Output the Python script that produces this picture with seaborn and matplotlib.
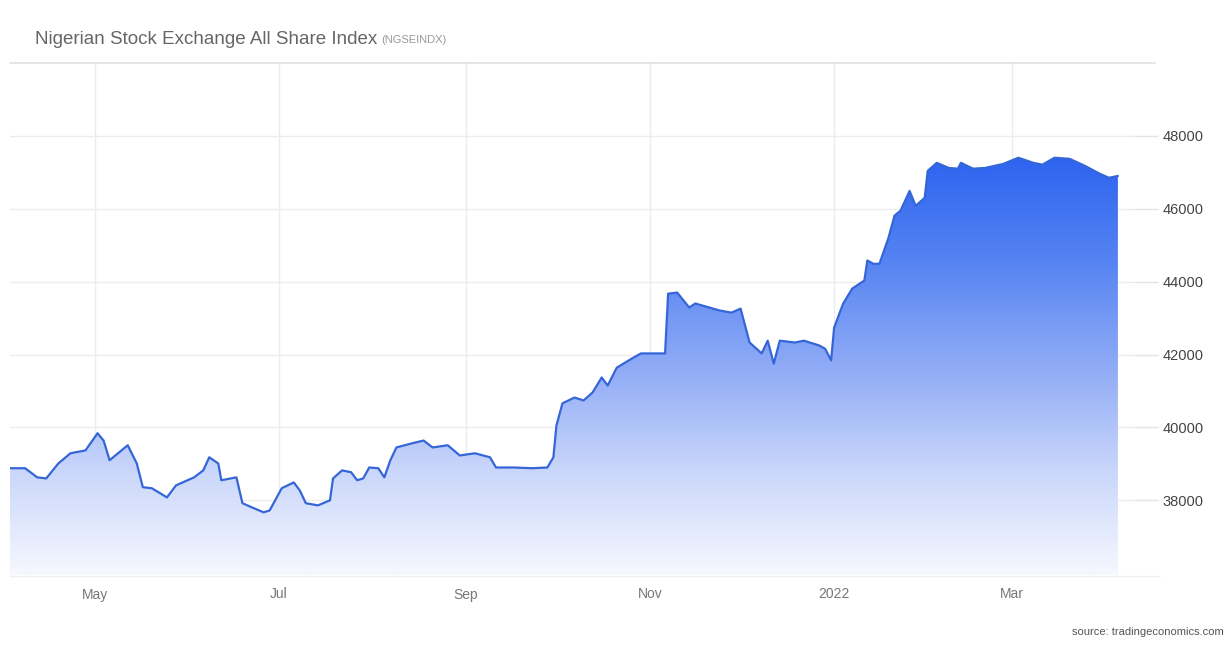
import pandas as pd
import numpy as np
import matplotlib
matplotlib.use("Agg")
import matplotlib.pyplot as plt
import matplotlib.dates as mdates
from matplotlib.colors import LinearSegmentedColormap
from matplotlib.lines import Line2D
import seaborn as sns

# values
dates = [
    "2021-04-03", "2021-04-08", "2021-04-12", "2021-04-15", "2021-04-19", "2021-04-23", "2021-04-28",
    "2021-05-02", "2021-05-04", "2021-05-06", "2021-05-12", "2021-05-15", "2021-05-17", "2021-05-20",
    "2021-05-25", "2021-05-28", "2021-06-03", "2021-06-06", "2021-06-08", "2021-06-11", "2021-06-12",
    "2021-06-17", "2021-06-19", "2021-06-22", "2021-06-26", "2021-06-28", "2021-07-02", "2021-07-06",
    "2021-07-08", "2021-07-10", "2021-07-14", "2021-07-18", "2021-07-19", "2021-07-22", "2021-07-25",
    "2021-07-27", "2021-07-29", "2021-07-31", "2021-08-03", "2021-08-05", "2021-08-07", "2021-08-09",
    "2021-08-14", "2021-08-18", "2021-08-21", "2021-08-26", "2021-08-30", "2021-09-04", "2021-09-09",
    "2021-09-11", "2021-09-17", "2021-09-23", "2021-09-28", "2021-09-30", "2021-10-01", "2021-10-03",
    "2021-10-07", "2021-10-10", "2021-10-13", "2021-10-16", "2021-10-18", "2021-10-21", "2021-10-26",
    "2021-10-29", "2021-11-06", "2021-11-07", "2021-11-10", "2021-11-14", "2021-11-16", "2021-11-24",
    "2021-11-28", "2021-12-01", "2021-12-04", "2021-12-08", "2021-12-10", "2021-12-12", "2021-12-14",
    "2021-12-19", "2021-12-22", "2021-12-27", "2021-12-29", "2021-12-31", "2022-01-01", "2022-01-04",
    "2022-01-07", "2022-01-11", "2022-01-12", "2022-01-14", "2022-01-16", "2022-01-19", "2022-01-21",
    "2022-01-23", "2022-01-26", "2022-01-28", "2022-01-31", "2022-02-01", "2022-02-04", "2022-02-08",
    "2022-02-11", "2022-02-12", "2022-02-16", "2022-02-20", "2022-02-26", "2022-03-03", "2022-03-08",
    "2022-03-11", "2022-03-15", "2022-03-20", "2022-03-25", "2022-03-30", "2022-04-02", "2022-04-05",
]
values = [
    38880, 38880, 38630, 38600, 39010, 39290, 39370,
    39840, 39640, 39100, 39510, 39010, 38360, 38330,
    38080, 38410, 38630, 38820, 39180, 39010, 38550,
    38630, 37920, 37810, 37670, 37720, 38330, 38490,
    38270, 37920, 37860, 38000, 38600, 38820, 38770,
    38550, 38600, 38900, 38880, 38630, 39100, 39450,
    39560, 39640, 39450, 39510, 39230, 39290, 39180,
    38900, 38900, 38880, 38900, 39180, 40050, 40660,
    40820, 40740, 40960, 41370, 41150, 41640, 41890,
    42030, 42030, 43670, 43700, 43290, 43400, 43210,
    43150, 43260, 42330, 42030, 42380, 41750, 42380,
    42330, 42380, 42250, 42160, 41840, 42740, 43400,
    43810, 44030, 44580, 44490, 44490, 45200, 45810,
    45950, 46490, 46080, 46300, 47040, 47260, 47120,
    47100, 47260, 47100, 47120, 47230, 47400, 47260,
    47210, 47400, 47370, 47180, 46960, 46850, 46900,
]

title = "Nigerian Stock Exchange All Share Index"
subtitle = "(NGSEINDX)"
source = "source: tradingeconomics.com"
y_ticks = [38000, 40000, 42000, 44000, 46000, 48000]
x_ticks = ["2021-05-01", "2021-07-01", "2021-09-01", "2021-11-01", "2022-01-01", "2022-03-01"]
x_labels = ["May", "Jul", "Sep", "Nov", "2022", "Mar"]

df = pd.DataFrame({"date": pd.to_datetime(dates), "value": values})

sns.set_style("white")
plt.rcParams["font.family"] = ["Liberation Sans", "DejaVu Sans"]

fig = plt.figure(figsize=(12.28, 6.46), dpi=100)
W, H = 1228, 646
ax = fig.add_axes([10 / W, 1 - 575 / H, (1133 - 10) / W, (575 - 63) / H])

y_lo, y_hi = 35950, 50000
x_lo, x_hi = pd.Timestamp("2021-04-03"), pd.Timestamp("2022-04-10")

# gradient fill under the line
poly = ax.fill_between(df["date"], df["value"], y_lo, facecolor="none", edgecolor="none")
cmap = LinearSegmentedColormap.from_list(
    "te", ["#f6f8ff", "#c9d6fb", "#8eaaf6", "#5583f2", "#2c63f0"])
grad = np.linspace(0, 1, 256).reshape(-1, 1)
img = ax.imshow(grad, cmap=cmap, aspect="auto", origin="lower",
                extent=[mdates.date2num(x_lo), mdates.date2num(x_hi), y_lo, 47500],
                zorder=1)
img.set_clip_path(poly.get_paths()[0], transform=ax.transData)

sns.lineplot(data=df, x="date", y="value", ax=ax, color="#3566d8", linewidth=1.6, zorder=3)

ax.set_xlim(x_lo, x_hi)
ax.set_ylim(y_lo, y_hi)

ax.set_yticks(y_ticks)
ax.set_yticklabels([str(v) for v in y_ticks])
ax.yaxis.tick_right()
ax.set_xticks(pd.to_datetime(x_ticks))
ax.set_xticklabels(x_labels)

ax.grid(True, color="#ececec", linewidth=1, zorder=0)
ax.set_axisbelow(True)
ax.tick_params(axis="y", direction="out", length=18, width=1, color="#e4e4e4",
               pad=3, labelsize=10.5, labelcolor="#444444")
ax.tick_params(axis="x", length=0, pad=9, labelsize=10, labelcolor="#777777")
for s in ax.spines.values():
    s.set_visible(False)
ax.set_xlabel("")
ax.set_ylabel("")

# separator line below title and bottom rule
fig.add_artist(Line2D([10 / W, 1155 / W], [1 - 63 / H, 1 - 63 / H], color="#e0e0e0", linewidth=1.2))
fig.add_artist(Line2D([10 / W, 1160 / W], [1 - 576 / H, 1 - 576 / H], color="#f0f0f0", linewidth=1))

t = fig.text(35 / W, 1 - 40 / H, title, fontsize=13.5, color="#666666", va="center", ha="left")
fig.canvas.draw()
bb = t.get_window_extent()
fig.text((bb.x1 + 4) / W, 1 - 40 / H, subtitle, fontsize=8, color="#999999", va="center", ha="left")
fig.text(1224 / W, 1 - 632 / H, source, fontsize=8, color="#555555", va="center", ha="right")

fig.savefig("out.png", dpi=100, facecolor="white")
